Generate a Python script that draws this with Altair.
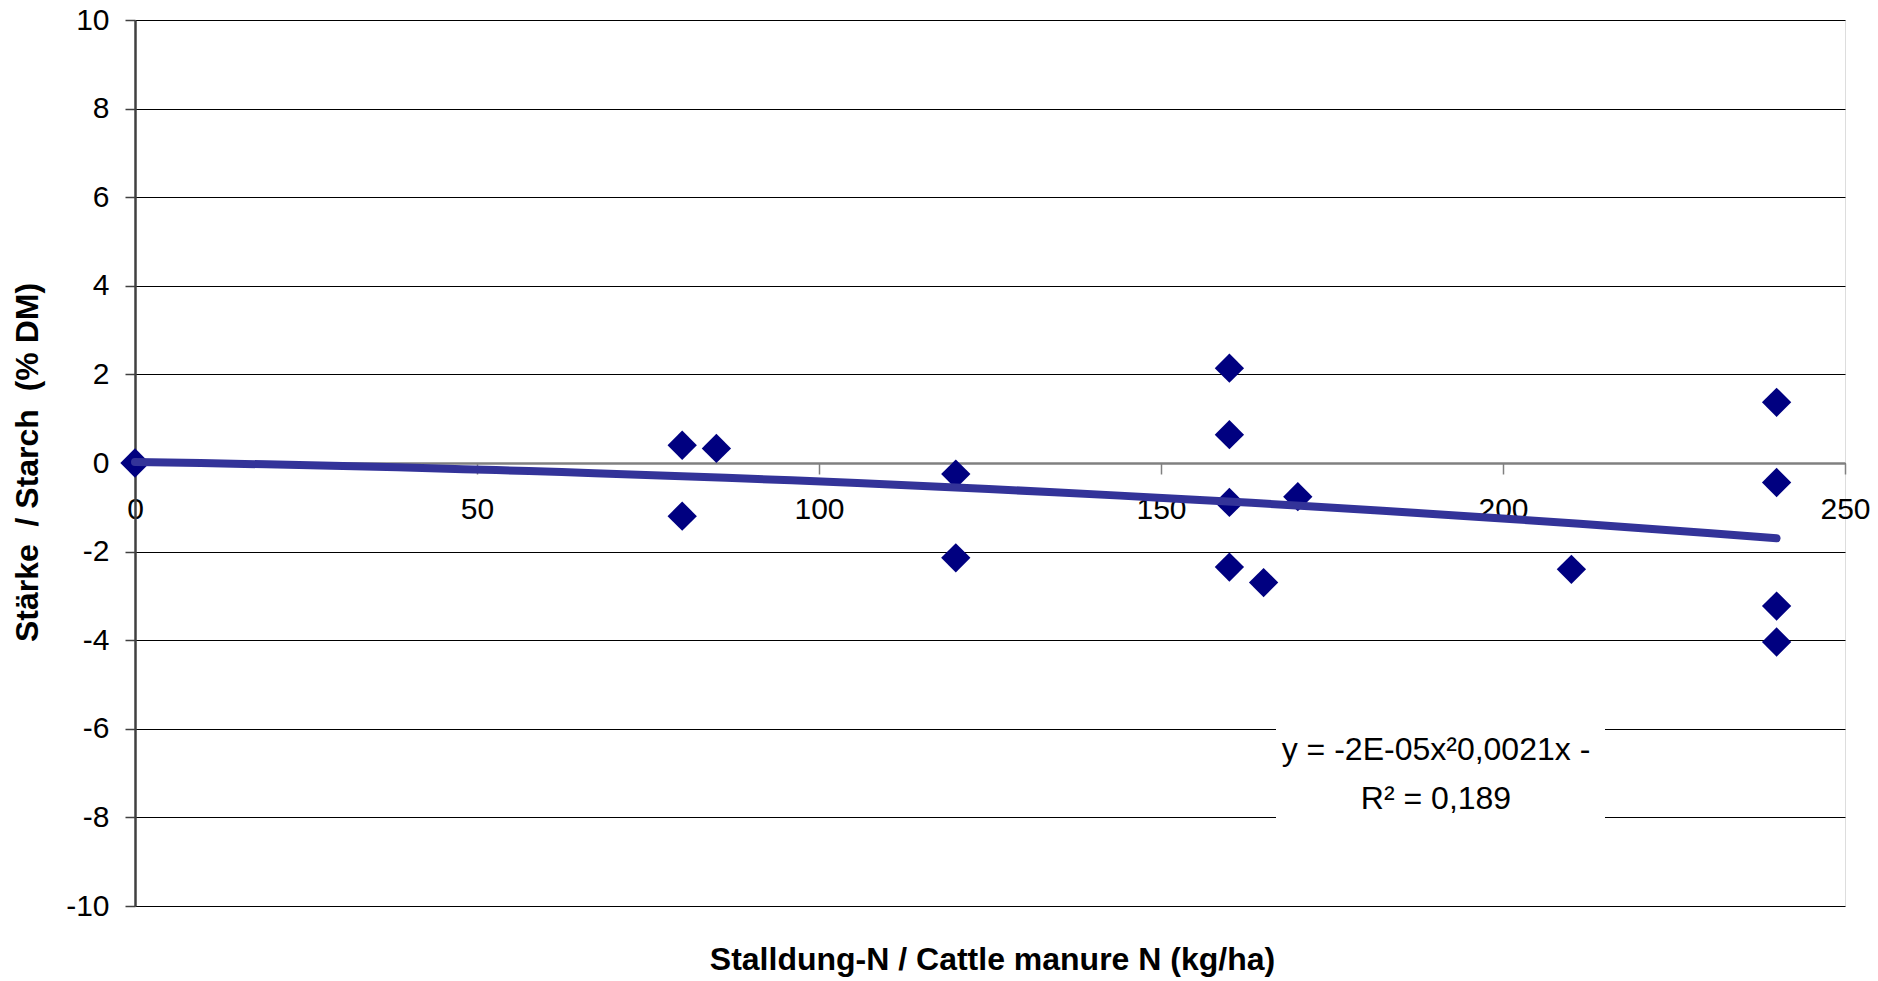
import altair as alt
import pandas as pd

# Cattle manure N applied (kg/ha) and change in starch content (% DM)
manure_n = [0, 80, 85, 80, 120, 120, 160, 160, 160, 160, 165, 170, 210, 240, 240, 240, 240]
starch = [0.0, 0.40, 0.33, -1.20, -0.25, -2.14, 2.14, 0.64, -0.89, -2.35, -2.70, -0.76,
          -2.40, 1.37, -0.44, -3.23, -4.04]

x_ticks = [0, 50, 100, 150, 200, 250]
y_ticks = [-10, -8, -6, -4, -2, 0, 2, 4, 6, 8, 10]

eq_lines = ["y = -2E-05x\u00b20,0021x -", "R\u00b2 = 0,189"]

df = pd.DataFrame({"n": manure_n, "starch": starch})

FONT = "Liberation Sans"
W, H = 1710, 886

x_enc = alt.X(
    "n:Q",
    scale=alt.Scale(domain=[0, 250], nice=False, zero=False),
    axis=alt.Axis(
        values=x_ticks,
        orient="bottom",
        offset=-H / 2,
        grid=False,
        labelFont=FONT,
        labelFontSize=30,
        labelColor="#000000",
        labelPadding=20,
        labelFlush=False,
        labelBound=False,
        labelOverlap=False,
        tickSize=11,
        tickColor="#808080",
        tickWidth=1.5,
        domainColor="#808080",
        domainWidth=2.5,
        title="Stalldung-N / Cattle manure N (kg/ha)",
        titleFont=FONT,
        titleFontSize=32,
        titleFontWeight="bold",
        titleColor="#000000",
        titleBaseline="alphabetic",
        titleX=W / 2 + 2,
        titleY=506,
    ),
)

y_enc = alt.Y(
    "starch:Q",
    scale=alt.Scale(domain=[-10, 10], nice=False, zero=False),
    axis=alt.Axis(
        values=y_ticks,
        labelExpr="'' + datum.value",
        grid=True,
        gridColor="#000000",
        gridWidth=1,
        labelFont=FONT,
        labelFontSize=30,
        labelColor="#000000",
        labelPadding=16,
        labelOverlap=False,
        labelBound=False,
        labelFlush=False,
        tickSize=10,
        tickColor="#404040",
        tickWidth=1.5,
        domainColor="#404040",
        domainWidth=2.5,
        title="St\u00e4rke\u00a0 / Starch\u00a0 (% DM)",
        titleFont=FONT,
        titleFontSize=32,
        titleFontWeight="bold",
        titleColor="#000000",
        titleAngle=270,
        titleBaseline="alphabetic",
        titleX=-98,
        titleY=442,
    ),
)

base = alt.Chart(df)

points = base.mark_point(
    shape="diamond", filled=True, size=860, color="#000080", opacity=1
).encode(x=x_enc, y=y_enc)

# second-order polynomial trend line
trend = (
    base.transform_regression("n", "starch", method="poly", order=2, extent=[0, 240])
    .mark_line(color="#333399", strokeWidth=8, strokeCap="round")
    .encode(x="n:Q", y="starch:Q")
)

# white label box behind the regression equation
label_box = alt.Chart(pd.DataFrame({"k": [0]})).mark_rect(color="white").encode(
    x=alt.value(1141), x2=alt.value(1470), y=alt.value(702), y2=alt.value(806)
)

eq1 = alt.Chart(pd.DataFrame({"t": [eq_lines[0]]})).mark_text(
    font=FONT, fontSize=32, color="#000000", align="center", baseline="alphabetic"
).encode(text="t:N", x=alt.value(1301), y=alt.value(740))
eq2 = alt.Chart(pd.DataFrame({"t": [eq_lines[1]]})).mark_text(
    font=FONT, fontSize=32, color="#000000", align="center", baseline="alphabetic"
).encode(text="t:N", x=alt.value(1301), y=alt.value(789))

chart = (
    alt.layer(label_box, points, trend, eq1, eq2)
    .properties(
        width=W,
        height=H,
        autosize=alt.AutoSizeParams(type="none"),
        padding={"left": 135, "top": 20, "right": 33, "bottom": 75},
    )
    .configure_view(stroke="#808080", strokeWidth=2.5)
    .configure(background="white")
)

chart.save("out.html", embed_options={"renderer": "svg", "actions": False})
